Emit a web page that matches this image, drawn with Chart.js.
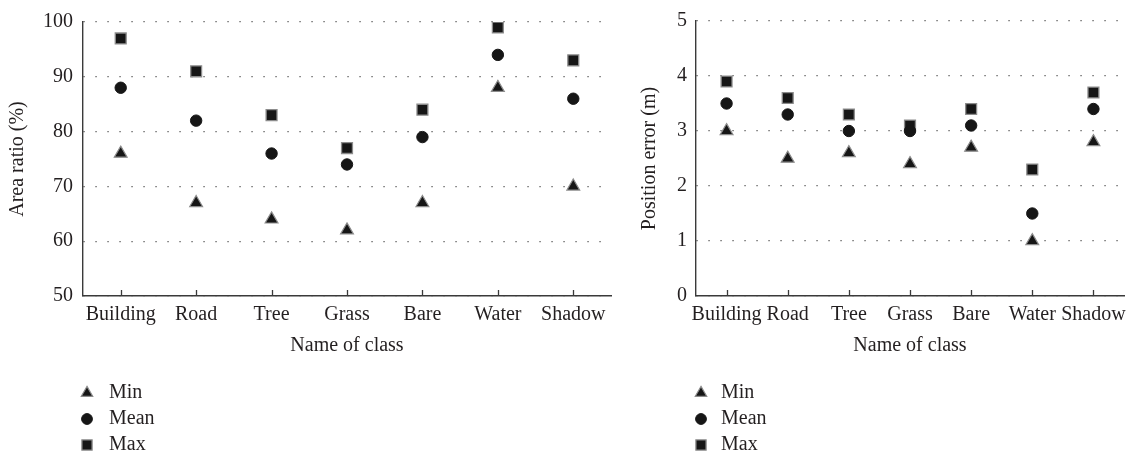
<!DOCTYPE html>
<html>
<head>
<meta charset="utf-8">
<script src="https://cdn.jsdelivr.net/npm/chart.js@4.4.1/dist/chart.umd.min.js"></script>
<style>
  html, body { margin: 0; padding: 0; background: #fff; }
  body { width: 1138px; height: 457px; position: relative; overflow: hidden; }
  .panel { position: absolute; top: 0; height: 457px; }
  #left { left: 0; width: 620px; }
  #right { left: 620px; width: 518px; }
</style>
</head>
<body>
<div class="panel" id="left"><canvas id="areaChart" width="620" height="457"></canvas></div>
<div class="panel" id="right"><canvas id="posChart" width="518" height="457"></canvas></div>
<script>
// Land-cover classes
const classes = ['Building', 'Road', 'Tree', 'Grass', 'Bare', 'Water', 'Shadow'];

// Area ratio (%)
const areaMin  = [76, 67, 64, 62, 67, 88, 70];
const areaMean = [88, 82, 76, 74, 79, 94, 86];
const areaMax  = [97, 91, 83, 77, 84, 99, 93];

// Position error (m)
const posMin  = [3.0, 2.5, 2.6, 2.4, 2.7, 1.0, 2.8];
const posMean = [3.5, 3.3, 3.0, 3.0, 3.1, 1.5, 3.4];
const posMax  = [3.9, 3.6, 3.3, 3.1, 3.4, 2.3, 3.7];

const seriesNames = ['Min', 'Mean', 'Max'];

const INK = '#231f20';
const AXIS = '#3a3a3a';
const FILL = '#161616';
const EDGE = '#8c8c8c';
const FONT = "'Liberation Serif', 'Times New Roman', serif";

Chart.defaults.font.family = FONT;
Chart.defaults.font.size = 20;
Chart.defaults.color = INK;

function makeDatasets(minV, meanV, maxV) {
  return [
    { label: seriesNames[0], data: minV, pointStyle: 'triangle', pointRadius: 7.4,
      backgroundColor: FILL, borderColor: EDGE, pointBorderWidth: 1.2, legendRadius: 6.6 },
    { label: seriesNames[1], data: meanV, pointStyle: 'circle', pointRadius: 5.7,
      backgroundColor: FILL, borderColor: FILL, pointBorderWidth: 1, legendRadius: 5.4 },
    { label: seriesNames[2], data: maxV, pointStyle: 'rect', pointRadius: 7.7,
      backgroundColor: FILL, borderColor: EDGE, pointBorderWidth: 1.3, legendRadius: 7.2 }
  ].map(d => Object.assign(d, { showLine: false, pointHoverRadius: d.pointRadius }));
}

// Short inward tick marks on the category axis plus a stacked legend below the plot
const decorations = {
  id: 'decorations',
  afterDraw(chart, args, opts) {
    const ctx = chart.ctx;
    const xs = chart.scales.x;
    ctx.save();
    ctx.strokeStyle = AXIS;
    ctx.lineWidth = 1.3;
    xs.ticks.forEach((t, i) => {
      const px = Math.round(xs.getPixelForTick(i)) + 0.5;
      ctx.beginPath();
      ctx.moveTo(px, xs.top);
      ctx.lineTo(px, xs.top - 6);
      ctx.stroke();
    });
    // legend
    ctx.font = '20px ' + FONT;
    ctx.textBaseline = 'middle';
    ctx.textAlign = 'left';
    chart.data.datasets.forEach((ds, i) => {
      const y = opts.rows[i];
      ctx.fillStyle = ds.backgroundColor;
      ctx.strokeStyle = ds.borderColor;
      ctx.lineWidth = ds.pointBorderWidth;
      Chart.helpers.drawPoint(ctx, {
        pointStyle: ds.pointStyle, radius: ds.legendRadius,
        borderWidth: ds.pointBorderWidth, rotation: 0
      }, opts.markerX, y);
      ctx.fillStyle = INK;
      ctx.fillText(ds.label, opts.textX, y);
    });
    ctx.restore();
  }
};

function buildChart(canvasId, cfg) {
  return new Chart(document.getElementById(canvasId), {
    type: 'line',
    data: { labels: classes, datasets: makeDatasets(cfg.minV, cfg.meanV, cfg.maxV) },
    options: {
      responsive: false,
      animation: false,
      events: [],
      layout: { padding: { top: 16, left: 0, right: cfg.padRight, bottom: 99 } },
      plugins: {
        legend: { display: false },
        tooltip: { enabled: false },
        decorations: { markerX: cfg.markerX, textX: cfg.textX, rows: [393, 419, 445] }
      },
      scales: {
        x: {
          type: 'category',
          offset: true,
          grid: { display: true, drawOnChartArea: false, drawTicks: false, offset: false },
          border: { display: true, color: AXIS, width: 1.4 },
          ticks: { padding: 6.5, color: INK, font: { size: 20 }, maxRotation: 0, autoSkip: false },
          title: { display: true, text: 'Name of class', color: INK, font: { size: 20 },
                   padding: { top: 0, bottom: 0 } },
          afterFit(scale) { scale.height = 62; }
        },
        y: {
          min: cfg.yMin, max: cfg.yMax,
          ticks: { stepSize: cfg.yStep, padding: cfg.tickPad, color: INK, font: { size: 20 } },
          grid: { drawTicks: false, color: '#5a5a5a', lineWidth: 1.2 },
          border: { display: true, color: AXIS, width: 1.4, dash: [1.3, 10.7] },
          title: { display: true, text: cfg.yTitle, color: INK, font: { size: 20 },
                   padding: { top: cfg.titlePad, bottom: 0 } },
          afterFit(scale) { scale.width = cfg.axisX; }
        }
      }
    },
    plugins: [decorations]
  });
}

buildChart('areaChart', {
  minV: areaMin, meanV: areaMean, maxV: areaMax,
  yMin: 50, yMax: 100, yStep: 10, yTitle: 'Area ratio (%)',
  axisX: 83, padRight: 7, tickPad: 10, titlePad: 6,
  markerX: 87, textX: 109
});

buildChart('posChart', {
  minV: posMin, meanV: posMean, maxV: posMax,
  yMin: 0, yMax: 5, yStep: 1, yTitle: 'Position error (m)',
  axisX: 76, padRight: 14, tickPad: 9, titlePad: 18,
  markerX: 81, textX: 101
});
</script>
</body>
</html>
